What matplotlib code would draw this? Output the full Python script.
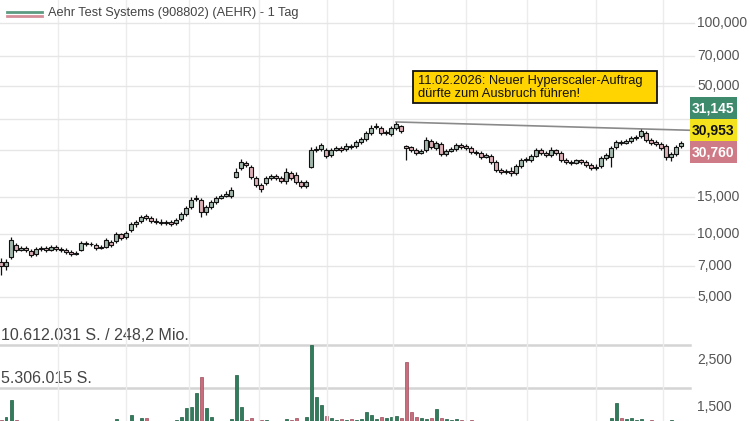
import matplotlib.pyplot as plt
from matplotlib.patches import Rectangle
from matplotlib.lines import Line2D

plt.rcParams['font.family'] = ['Liberation Sans', 'DejaVu Sans']

# daily candles (EUR)
opens = [7.33, 7.02, 7.75, 8.83, 8.36, 8.55, 8.27, 8.00, 8.45, 8.55,
         8.36, 8.64, 8.45, 8.36, 8.18, 8.00, 8.36, 9.03, 8.93, 8.83,
         8.55, 8.64, 9.13, 9.23, 9.96, 9.64, 10.41, 11.11, 11.48, 12.13,
         11.87, 11.48, 11.36, 11.24, 11.36, 11.24, 11.74, 12.40, 13.38, 14.61,
         14.45, 12.67, 13.38, 14.13, 14.77, 15.09, 15.09, 18.58, 20.50, 21.65,
         20.72, 18.37, 17.02, 17.40, 18.37, 18.78, 18.37, 17.78, 19.41, 18.99,
         17.59, 16.84, 20.72, 24.96, 25.23, 24.96, 23.63, 24.96, 25.51, 25.23,
         26.07, 26.07, 27.24, 28.15, 30.06, 32.10, 31.75, 30.06, 29.73, 31.75,
         32.45, 26.07, 25.79, 24.96, 24.15, 24.96, 27.54, 25.51, 26.65, 23.89,
         24.69, 25.23, 26.36, 26.07, 25.51, 24.42, 24.15, 23.12, 23.37, 21.89,
         20.05, 19.62, 19.84, 19.41, 20.95, 22.37, 22.37, 23.37, 24.96, 24.15,
         23.63, 24.96, 24.15, 22.37, 21.89, 21.65, 22.37, 21.89, 21.18, 20.50,
         20.95, 22.87, 23.12, 25.79, 27.24, 26.94, 27.54, 28.46, 29.09, 30.06,
         27.84, 27.24, 26.65, 26.07, 23.12, 23.89, 26.07]
highs = [7.66, 7.58, 9.64, 9.03, 8.74, 8.74, 8.45, 8.64, 8.74, 8.74,
         8.83, 8.83, 8.64, 8.55, 8.36, 8.27, 9.23, 9.23, 9.13, 9.03,
         8.83, 9.54, 9.33, 10.18, 10.07, 10.30, 11.36, 11.61, 12.26, 12.40,
         12.13, 11.87, 11.74, 11.61, 11.61, 11.87, 12.67, 13.53, 14.93, 15.26,
         14.77, 13.68, 14.45, 15.09, 15.43, 15.94, 16.65, 20.50, 22.62, 22.13,
         21.18, 18.78, 17.40, 18.78, 19.20, 19.20, 18.78, 20.50, 19.84, 19.62,
         17.98, 17.98, 25.79, 26.07, 26.94, 25.51, 25.51, 26.07, 26.07, 26.94,
         26.65, 27.84, 28.77, 30.72, 32.81, 33.53, 32.45, 31.06, 32.45, 33.90,
         32.81, 26.36, 26.07, 25.51, 25.23, 28.77, 28.15, 27.54, 27.24, 25.23,
         25.79, 26.94, 26.94, 26.65, 26.07, 24.96, 24.69, 24.15, 23.89, 22.37,
         20.50, 20.27, 20.72, 21.41, 22.87, 23.12, 23.89, 25.51, 25.51, 24.69,
         25.79, 25.23, 24.69, 22.87, 22.37, 22.62, 22.62, 22.37, 21.65, 21.41,
         23.37, 24.15, 26.07, 27.84, 27.84, 28.15, 29.09, 29.41, 31.40, 30.72,
         28.46, 27.84, 27.24, 26.65, 24.42, 26.36, 27.54]
lows = [6.36, 6.72, 7.58, 8.18, 8.27, 8.18, 7.75, 7.83, 8.27, 8.18,
        8.27, 8.27, 8.18, 8.00, 7.83, 7.92, 8.27, 8.74, 8.74, 8.36,
        8.45, 8.55, 8.64, 9.03, 9.33, 9.43, 10.18, 10.76, 11.24, 11.61,
        11.24, 11.11, 10.99, 10.99, 10.87, 10.99, 11.48, 12.13, 13.09, 14.29,
        12.00, 12.26, 13.09, 13.83, 14.61, 14.93, 14.77, 18.37, 20.05, 20.72,
        18.17, 16.65, 15.77, 17.02, 17.98, 17.98, 17.40, 17.21, 17.98, 17.21,
        16.47, 16.47, 20.50, 24.42, 24.69, 22.87, 23.12, 24.69, 24.42, 24.69,
        25.23, 25.51, 26.65, 27.54, 29.41, 31.40, 29.41, 29.41, 29.09, 31.06,
        30.06, 22.37, 24.42, 23.63, 23.89, 24.42, 25.23, 24.96, 23.37, 23.37,
        24.42, 24.69, 25.23, 24.96, 23.89, 23.63, 22.62, 22.87, 21.41, 19.62,
        19.20, 19.20, 18.78, 18.99, 20.50, 21.89, 21.89, 23.12, 23.63, 23.12,
        23.12, 23.63, 21.89, 21.41, 21.18, 21.41, 21.41, 20.72, 20.05, 20.05,
        20.50, 22.37, 20.72, 25.23, 26.36, 26.65, 26.94, 27.84, 28.46, 27.24,
        26.36, 26.07, 24.96, 22.37, 22.13, 23.37, 25.51]
closes = [7.02, 7.33, 9.33, 8.36, 8.55, 8.36, 7.92, 8.45, 8.55, 8.36,
          8.64, 8.45, 8.36, 8.18, 8.00, 8.09, 9.03, 8.93, 8.97, 8.55,
          8.64, 9.33, 8.83, 9.96, 9.54, 10.07, 11.11, 11.36, 12.00, 11.87,
          11.48, 11.36, 11.24, 11.36, 11.11, 11.61, 12.40, 13.24, 14.45, 14.77,
          12.67, 13.38, 14.13, 14.77, 15.09, 15.43, 16.12, 19.62, 21.89, 21.18,
          18.58, 17.02, 16.29, 18.37, 18.78, 18.37, 17.78, 19.62, 18.37, 17.59,
          16.84, 17.59, 24.96, 25.23, 26.36, 23.37, 24.96, 25.51, 24.96, 26.07,
          25.79, 27.24, 28.15, 30.06, 31.75, 32.45, 30.06, 30.39, 31.75, 33.17,
          30.72, 25.51, 24.96, 24.15, 24.69, 27.84, 25.79, 26.94, 23.89, 24.69,
          25.23, 26.36, 25.79, 25.51, 24.42, 24.15, 23.12, 23.63, 21.89, 20.05,
          19.62, 19.84, 19.41, 20.95, 22.37, 22.62, 23.37, 24.96, 24.15, 23.63,
          24.96, 24.15, 22.37, 21.89, 21.65, 22.37, 21.89, 21.18, 20.50, 20.72,
          22.87, 23.63, 25.51, 27.24, 26.94, 27.54, 28.46, 28.77, 30.72, 27.84,
          26.94, 26.65, 25.51, 23.12, 23.89, 25.79, 26.94]
# volume in million shares
volumes = [1.3, 1.7, 3.8, 1.3, 0.9, 0.8, 1.0, 0.8, 0.9, 0.8,
           0.7, 0.9, 0.8, 1.0, 0.8, 0.9, 1.1, 0.8, 0.9, 0.8,
           1.0, 0.9, 1.1, 1.5, 0.9, 1.1, 2.0, 1.2, 1.6, 1.6,
           1.0, 0.9, 1.0, 0.8, 1.1, 1.3, 1.7, 2.8, 3.0, 4.7,
           6.7, 2.8, 1.7, 1.2, 1.0, 1.1, 1.5, 6.9, 3.0, 1.4,
           1.6, 1.2, 1.4, 1.3, 1.0, 0.9, 1.1, 1.5, 1.4, 1.6,
           1.2, 1.7, 10.612031, 4.2, 3.2, 1.8, 1.6, 1.4, 1.5, 1.3,
           1.5, 1.4, 1.5, 2.3, 2.0, 1.5, 1.7, 1.6, 1.7, 1.8,
           1.6, 8.5, 2.3, 1.7, 1.6, 1.5, 1.6, 2.7, 1.6, 1.5,
           1.4, 1.5, 1.3, 1.1, 1.3, 1.0, 0.9, 1.0, 0.9, 1.2,
           0.8, 0.9, 0.8, 1.0, 0.9, 0.8, 0.9, 1.0, 0.8, 0.9,
           0.8, 1.0, 0.9, 0.8, 0.9, 1.0, 0.8, 0.9, 1.0, 0.9,
           1.1, 1.0, 1.6, 3.5, 1.6, 1.5, 1.6, 1.4, 1.5, 1.2,
           1.3, 1.1, 1.0, 1.2, 1.3, 1.1, 1.0]

grid_prices = [100, 70, 50, 35, 25, 15, 10, 7, 5]
label_prices = [100, 70, 50, 15, 10, 7, 5, 2.5, 1.5]
month_lines = [11.4, 25.0, 37.6, 51.6, 65.2, 78.4, 93.0, 105.2, 119.0, 132.4]
quotes = [31.145, 30.953, 30.760]   # bid / last / ask
title = "Aehr Test Systems (908802) (AEHR) - 1 Tag"
note = ["11.02.2026: Neuer Hyperscaler-Auftrag", "dürfte zum Ausbruch führen!"]
turnover = "248,2 Mio."

W, H = 750, 421
fig = plt.figure(figsize=(W / 100, H / 100), dpi=100)
fig.patch.set_facecolor('white')

def fy(py):
    return 1 - py / H

def de(v, dec=3):
    return f"{v:,.{dec}f}".replace(',', 'X').replace('.', ',').replace('X', '.')

n = len(closes)
xs = list(range(n))
up = [c >= o for o, c in zip(opens, closes)]

# volume panel: overlay, the zero line sits 10 px below the image edge
vax = fig.add_axes([0, 0, 1, 1])
vax.set_xlim(-0.2, 149.8)
vmax = max(volumes)
vpx = 86 / vmax  # pixels per million shares
vax.set_ylim(10 / vpx, (H + 10) / vpx)
vax.axis('off')
vcol = ['#2f7d5c' if u else '#c96c7c' for u in up]
vedge = ['#1f5a40' if u else '#9c4d5b' for u in up]
vax.bar(xs, volumes, width=0.6, color=vcol, edgecolor=vedge, linewidth=0.5, zorder=3)
for v in [vmax, vmax / 2]:
    vax.axhline(v, xmin=0, xmax=690 / W, color='#d4d4d4', lw=1.8, zorder=2)
vax.annotate(f"{de(int(vmax * 1e6), 0)} S. / {turnover}", xy=(0, vmax),
             xycoords=('axes fraction', 'data'), xytext=(1, 2), textcoords='offset pixels',
             va='bottom', ha='left', fontsize=11.5, color='#444')
vax.annotate(f"{de(int(vmax * 1e6 / 2), 0)} S.", xy=(0, vmax / 2),
             xycoords=('axes fraction', 'data'), xytext=(1, 2), textcoords='offset pixels',
             va='bottom', ha='left', fontsize=11.5, color='#444')

# price panel
ax = fig.add_axes([0, 0, 1, 1])
ax.patch.set_alpha(0)
ax.set_yscale('log')
ax.set_xlim(-0.2, 149.8)
ax.set_ylim(1.289, 128.6)
ax.axis('off')

for m in month_lines:
    ax.axvline(m, color='#ececec', lw=1, zorder=1)
for p in grid_prices:
    ax.axhline(p, xmin=0, xmax=694 / W, color='#e6e6e6', lw=1, zorder=1)
for p in label_prices:
    ax.text(697 / W, p, de(p), transform=ax.get_yaxis_transform(),
            va='center', ha='left', fontsize=10, color='#555')

ax.vlines(xs, lows, highs, color='#111', lw=0.9, zorder=3)
bottoms = [min(o, c) for o, c in zip(opens, closes)]
heights = [max(abs(c - o), 0.02) for o, c in zip(opens, closes)]
fills = ['#a3b8ad' if u else '#dcb0b7' for u in up]
ax.bar(xs, heights, bottom=bottoms, width=0.72, color=fills,
       edgecolor='#111', linewidth=0.8, zorder=4)

# resistance line from the high to the current quote
peak = highs.index(max(highs))
ax.plot([peak, (690 - 1) / 5], [highs[peak], quotes[1]], color='#8a8a8a', lw=1.2, zorder=2)

# quote badges
fig.canvas.draw()
yc = ax.transData.transform((0, quotes[1]))[1]
bcol = ['#3d8a6d', '#f3e21c', '#cf7b87']
tcol = ['white', '#111', 'white']
for k, (q, bc, tc) in enumerate(zip(quotes, bcol, tcol)):
    cy = yc + (1 - k) * 22
    fig.add_artist(Rectangle((690 / W, (cy - 11) / H), 47 / W, 22 / H,
                             transform=fig.transFigure, facecolor=bc, edgecolor='none'))
    fig.text(713.5 / W, cy / H, de(q), ha='center', va='center', fontsize=10,
             fontweight='bold', color=tc)

# news box
fig.add_artist(Rectangle((413 / W, fy(103)), 244 / W, 32 / H, transform=fig.transFigure,
                         facecolor='#ffd400', edgecolor='#111', lw=1.3))
fig.text(418 / W, fy(81), note[0], va='center', ha='left', fontsize=9.3, color='#111')
fig.text(418 / W, fy(94), note[1], va='center', ha='left', fontsize=9.3, color='#111')

# title with legend mark
fig.add_artist(Line2D([7 / W, 42 / W], [fy(12), fy(12)], color='#5c9a82', lw=2,
                      transform=fig.transFigure))
fig.add_artist(Line2D([7 / W, 42 / W], [fy(16), fy(16)], color='#d48d98', lw=2,
                      transform=fig.transFigure))
fig.text(48 / W, fy(13), title, va='center', ha='left', fontsize=9.2, color='#444')

fig.savefig('out.png', dpi=100)
